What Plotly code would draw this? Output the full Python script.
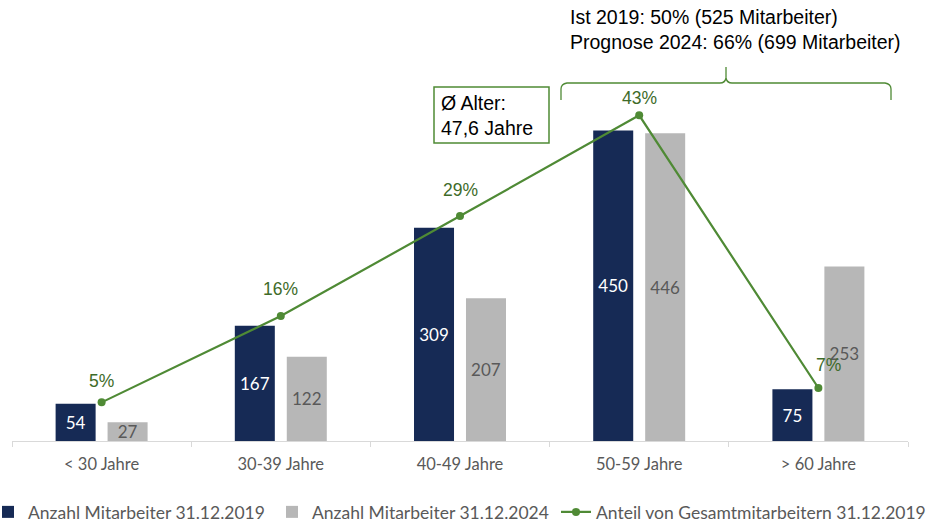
import plotly.graph_objects as go

categories = ["< 30 Jahre", "30-39 Jahre", "40-49 Jahre", "50-59 Jahre", "> 60 Jahre"]
anzahl_2019 = [54, 167, 309, 450, 75]
anzahl_2024 = [27, 122, 207, 446, 253]
anteil_2019 = [0.051, 0.165, 0.297, 0.43, 0.07]
anteil_labels = ["5%", "16%", "29%", "43%", "7%"]

# label placement (pixels above / right of each point)
label_yshift = [21, 27, 26, 17, 23]
label_xshift = [0, 0, 0, 0, 10]

W, H = 939, 522
ML, MR, MT, MB = 12, 31, 60, 81
PW, PH = W - ML - MR, H - MT - MB


def px(x):
    return (x - ML) / PW


def py(y):
    return (H - MB - y) / PH


NAVY = "#162A55"
GRAY = "#B7B7B7"
GREEN = "#4F8A35"
GREEN_TXT = "#3E6B29"
TXT_GRAY = "#595959"
BODY_FONT = "Lato, 'Open Sans', sans-serif"
ARIAL = "'Liberation Sans', Arial, sans-serif"

fig = go.Figure()
fig.add_trace(go.Bar(
    x=categories, y=anzahl_2019, name="Anzahl Mitarbeiter 31.12.2019",
    marker=dict(color=NAVY, line=dict(width=0)),
    text=anzahl_2019, textposition="inside", insidetextanchor="middle", textangle=0,
    textfont=dict(color="white", size=17, family=BODY_FONT),
    hoverinfo="skip", legend="legend",
))
fig.add_trace(go.Bar(
    x=categories, y=anzahl_2024, name="Anzahl Mitarbeiter 31.12.2024",
    marker=dict(color=GRAY, line=dict(width=0)),
    text=anzahl_2024, textposition="inside", insidetextanchor="middle", textangle=0,
    textfont=dict(color=TXT_GRAY, size=17, family=BODY_FONT),
    hoverinfo="skip", legend="legend",
))
fig.add_trace(go.Scatter(
    x=categories, y=anteil_2019, name="Anteil von Gesamtmitarbeitern 31.12.2019",
    yaxis="y2", mode="lines+markers",
    line=dict(color=GREEN, width=2.2),
    marker=dict(color=GREEN, size=8),
    cliponaxis=False, hoverinfo="skip", legend="legend2",
))

shapes = []
# box for average age
shapes.append(dict(type="rect", xref="paper", yref="paper",
                   x0=px(434), x1=px(549), y0=py(143), y1=py(87),
                   line=dict(color=GREEN, width=1.5), fillcolor="white", layer="above"))
# curly brace
pts = [(561, 100), (561, 89), (561, 84), (567, 83), (720, 83), (725, 83), (726, 78), (726, 67),
       (726, 78), (727, 83), (732, 83), (885, 83), (891, 84), (891, 89), (891, 100)]
path = "M {:.5f},{:.5f} ".format(px(pts[0][0]), py(pts[0][1]))
path += "L {:.5f},{:.5f} ".format(px(pts[1][0]), py(pts[1][1]))
path += "Q {:.5f},{:.5f} {:.5f},{:.5f} ".format(px(pts[2][0]), py(pts[2][1]), px(pts[3][0]), py(pts[3][1]))
path += "L {:.5f},{:.5f} ".format(px(pts[4][0]), py(pts[4][1]))
path += "Q {:.5f},{:.5f} {:.5f},{:.5f} ".format(px(pts[5][0]), py(pts[5][1]), px(pts[6][0]), py(pts[6][1]))
path += "L {:.5f},{:.5f} ".format(px(pts[7][0]), py(pts[7][1]))
path += "L {:.5f},{:.5f} ".format(px(pts[8][0]), py(pts[8][1]))
path += "Q {:.5f},{:.5f} {:.5f},{:.5f} ".format(px(pts[9][0]), py(pts[9][1]), px(pts[10][0]), py(pts[10][1]))
path += "L {:.5f},{:.5f} ".format(px(pts[11][0]), py(pts[11][1]))
path += "Q {:.5f},{:.5f} {:.5f},{:.5f} ".format(px(pts[12][0]), py(pts[12][1]), px(pts[13][0]), py(pts[13][1]))
path += "L {:.5f},{:.5f}".format(px(pts[14][0]), py(pts[14][1]))
shapes.append(dict(type="path", xref="paper", yref="paper", path=path,
                   line=dict(color=GREEN, width=1.3)))

annotations = [
    dict(xref="paper", yref="paper", x=px(439), y=py(115), xanchor="left", yanchor="middle",
         text="Ø Alter:<br>47,6 Jahre", align="left", showarrow=False,
         font=dict(family=ARIAL, size=19.5, color="black")),
    dict(xref="paper", yref="paper", x=px(568), y=py(30), xanchor="left", yanchor="middle",
         text="Ist 2019: 50% (525 Mitarbeiter)<br>Prognose 2024: 66% (699 Mitarbeiter)",
         align="left", showarrow=False,
         font=dict(family=ARIAL, size=19.5, color="black")),
]
for cat, val, lab, dy, dx in zip(categories, anteil_2019, anteil_labels, label_yshift, label_xshift):
    annotations.append(dict(x=cat, y=val, xref="x", yref="y2", text=lab, showarrow=False,
                            xanchor="center", yanchor="middle", yshift=dy, xshift=dx,
                            font=dict(family=ARIAL, size=17.5, color=GREEN_TXT)))

legend_font = dict(family=BODY_FONT, size=17.5, color=TXT_GRAY)
fig.update_layout(
    width=W, height=H,
    margin=dict(l=ML, r=MR, t=MT, b=MB, autoexpand=False),
    paper_bgcolor="white", plot_bgcolor="white",
    barmode="group", bargap=0.42, bargroupgap=0.23,
    uniformtext=dict(minsize=17, mode="show"),
    showlegend=True,
    legend=dict(orientation="h", x=px(-12), y=py(512), xanchor="left", yanchor="middle",
                font=legend_font, itemwidth=30, tracegroupgap=0, traceorder="normal",
                entrywidth=239, entrywidthmode="pixels"),
    legend2=dict(orientation="h", x=px(556), y=py(512), xanchor="left", yanchor="middle",
                 font=legend_font, itemwidth=30),
    xaxis=dict(type="category", showline=True, linecolor="#D9D9D9", linewidth=1,
               ticks="outside", tickson="boundaries", ticklen=5, tickcolor="#D9D9D9",
               ticklabelstandoff=8,
               tickfont=dict(family=BODY_FONT, size=16.5, color=TXT_GRAY),
               showgrid=False, zeroline=False),
    yaxis=dict(range=[0, 552], visible=False, showgrid=False, zeroline=False),
    yaxis2=dict(range=[0, 0.503], overlaying="y", visible=False, showgrid=False, zeroline=False),
    shapes=shapes, annotations=annotations,
)

fig.write_html("out.html", config={"displayModeBar": False},
               post_script="document.body.style.margin='0';document.body.style.overflow='hidden';")
